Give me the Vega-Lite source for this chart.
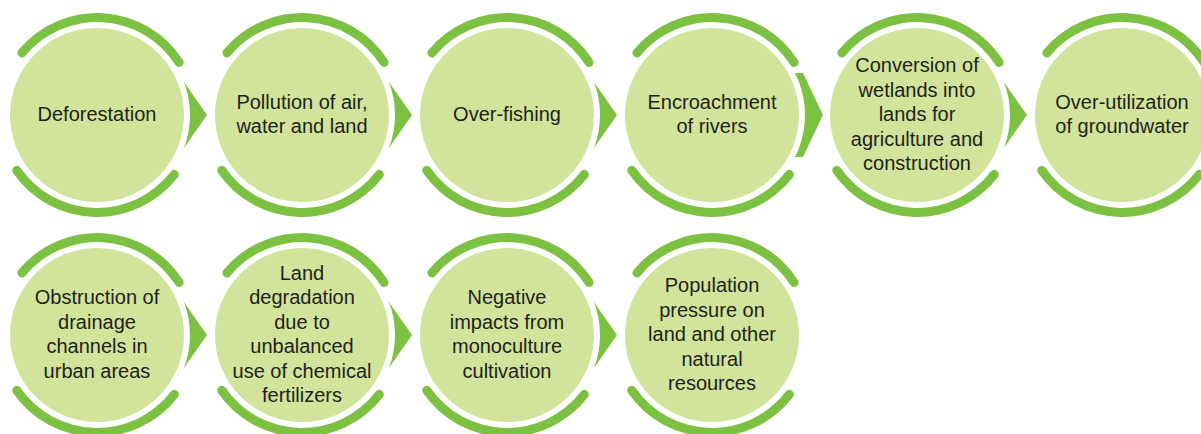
{
  "$schema": "https://vega.github.io/schema/vega-lite/v6.json",
  "width": 1201,
  "height": 434,
  "padding": 0,
  "autosize": "none",
  "background": "white",
  "config": {"view": {"stroke": null}},
  "data": {"values": [
    {"step": 1, "name": "Deforestation", "col": 0, "row": 0},
    {"step": 2, "name": "Pollution of air,\nwater and land", "col": 1, "row": 0},
    {"step": 3, "name": "Over-fishing", "col": 2, "row": 0},
    {"step": 4, "name": "Encroachment\nof rivers", "col": 3, "row": 0},
    {"step": 5, "name": "Conversion of\nwetlands into\nlands for\nagriculture and\nconstruction", "col": 4, "row": 0},
    {"step": 6, "name": "Over-utilization\nof groundwater", "col": 5, "row": 0},
    {"step": 7, "name": "Obstruction of\ndrainage\nchannels in\nurban areas", "col": 0, "row": 1},
    {"step": 8, "name": "Land\ndegradation\ndue to\nunbalanced\nuse of chemical\nfertilizers", "col": 1, "row": 1},
    {"step": 9, "name": "Negative\nimpacts from\nmonoculture\ncultivation", "col": 2, "row": 1},
    {"step": 10, "name": "Population\npressure on\nland and other\nnatural\nresources", "col": 3, "row": 1}
  ]},
  "encoding": {
    "x": {"field": "col", "type": "quantitative", "scale": {"domain": [-0.47317, 5.38537], "nice": false, "zero": false}, "axis": null},
    "y": {"field": "row", "type": "quantitative", "scale": {"domain": [-0.52273, 1.45], "nice": false, "zero": false, "reverse": true}, "axis": null}
  },
  "layer": [
    {
      "transform": [{"filter": "datum.step < 10 && datum.step != 4"}],
      "mark": {"type": "point", "shape": "M 8.2,-4 L 11,0 L 8.2,4 Z", "size": 400, "filled": true, "color": "#7dc142", "opacity": 1, "strokeWidth": 0}
    },
    {
      "transform": [{"filter": "datum.step == 4"}],
      "mark": {"type": "point", "shape": "M 7.4,-4.2 L 9.1,-4.2 L 11.1,0 L 9.1,4.2 L 7.4,4.2 Z", "size": 400, "filled": true, "color": "#7dc142", "opacity": 1, "strokeWidth": 0}
    },
    {
      "mark": {"type": "arc", "theta": 0, "theta2": 6.2832, "outerRadius": 90, "innerRadius": 0, "fill": "#d2e39b", "stroke": "white", "strokeWidth": 6}
    },
    {
      "mark": {"type": "arc", "theta": -0.925, "theta2": 1.047, "outerRadius": 102, "innerRadius": 93, "cornerRadius": 4.5, "fill": "#7dc142"}
    },
    {
      "mark": {"type": "arc", "theta": 2.18, "theta2": 4.154, "outerRadius": 102, "innerRadius": 93, "cornerRadius": 4.5, "fill": "#7dc142"}
    },
    {
      "transform": [{"filter": "length(split(datum.name, '\\n')) == 1"}],
      "mark": {"type": "text", "lineBreak": "\n", "fontSize": 20, "font": "Liberation Sans", "color": "#231f20", "baseline": "middle", "align": "center", "lineHeight": 24.5, "dy": 0},
      "encoding": {"text": {"field": "name", "type": "nominal"}}
    },
    {
      "transform": [{"filter": "length(split(datum.name, '\\n')) == 2"}],
      "mark": {"type": "text", "lineBreak": "\n", "fontSize": 20, "font": "Liberation Sans", "color": "#231f20", "baseline": "middle", "align": "center", "lineHeight": 24.5, "dy": -12.25},
      "encoding": {"text": {"field": "name", "type": "nominal"}}
    },
    {
      "transform": [{"filter": "length(split(datum.name, '\\n')) == 4"}],
      "mark": {"type": "text", "lineBreak": "\n", "fontSize": 20, "font": "Liberation Sans", "color": "#231f20", "baseline": "middle", "align": "center", "lineHeight": 24.5, "dy": -36.75},
      "encoding": {"text": {"field": "name", "type": "nominal"}}
    },
    {
      "transform": [{"filter": "length(split(datum.name, '\\n')) == 5"}],
      "mark": {"type": "text", "lineBreak": "\n", "fontSize": 20, "font": "Liberation Sans", "color": "#231f20", "baseline": "middle", "align": "center", "lineHeight": 24.5, "dy": -49},
      "encoding": {"text": {"field": "name", "type": "nominal"}}
    },
    {
      "transform": [{"filter": "length(split(datum.name, '\\n')) == 6"}],
      "mark": {"type": "text", "lineBreak": "\n", "fontSize": 20, "font": "Liberation Sans", "color": "#231f20", "baseline": "middle", "align": "center", "lineHeight": 24.5, "dy": -61.25},
      "encoding": {"text": {"field": "name", "type": "nominal"}}
    }
  ]
}
